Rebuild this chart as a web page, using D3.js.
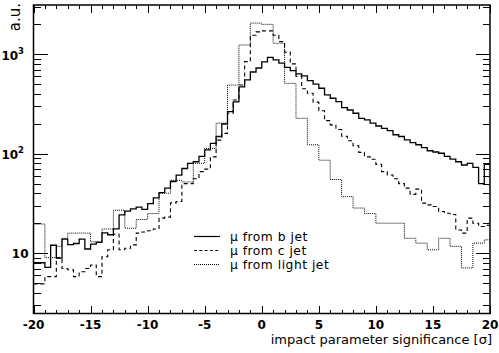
<!DOCTYPE html>
<html><head><meta charset="utf-8">
<script src="https://cdn.jsdelivr.net/npm/d3@7"></script>
<style>body{margin:0;background:#fff}svg{display:block}</style>
</head><body>
<svg id="c" width="499" height="353"></svg>
<script>
// ---- data ----
const binLow = -20, binWidth = 0.5;
const bJet = [8.0, 8.0, 7.2, 12.0, 8.9, 13.8, 12.2, 12.5, 13.8, 11.0,
  12.3, 12.8, 16.0, 15.3, 17.5, 24.3, 26.4, 27.9, 29.0, 27.5,
  31.5, 36, 40.6, 45, 52.5, 61, 71, 80, 83, 94,
  109, 127, 149, 199, 265, 332, 469, 552, 663, 728,
  840, 930, 880, 813, 737, 684, 634, 605, 543, 502,
  455, 390, 361, 334, 291, 275, 255, 227, 219, 203,
  190, 180, 171, 155, 149, 138, 129, 123, 115, 107,
  104, 101, 94, 88, 83, 77, 80, 73, 50, 78];
const cJet = [4.9, 4.9, 5.8, 5.8, 9.0, 7.0, 6.8, 5.8, 6.5, 7.0,
  7.6, 5.8, 9.2, 10.8, 15.5, 10.8, 11.2, 12.1, 15.9, 16.3,
  16.8, 17.5, 22.5, 23, 32, 33, 50, 50, 56, 66,
  70, 93, 137, 160, 255, 347, 490, 843, 1555, 1680,
  1720, 1720, 1555, 1340, 1050, 800, 600, 450, 405, 330,
  270, 215, 195, 175, 150, 135, 120, 103, 93, 88,
  78, 66, 61, 56, 50, 45, 39, 44, 31.8, 30.6,
  29.4, 26.2, 25.2, 24.5, 17.1, 15.9, 22.5, 20, 18.5, 19];
const lightJet = [19.6, 19.6, 9.0, 9.0, 11.7, 14.1, 15.9, 15.9, 15.9, 15.9,
  13, 13, 17.5, 17.5, 27, 27, 17.8, 17.8, 21.8, 21.8,
  25, 25, 40, 40, 54, 54, 52, 52, 80, 80,
  113, 113, 203, 203, 490, 490, 1240, 1240, 2060, 2060,
  2000, 2000, 1290, 1290, 510, 510, 227, 227, 123, 123,
  86, 86, 55, 55, 37, 37, 28.4, 28.4, 25, 25,
  20, 20, 20, 20, 20, 14.1, 14.1, 12.6, 12.6, 10.8,
  10.8, 14.1, 14.1, 11.7, 11.7, 7.1, 7.1, 12.6, 12.6, 13.6];
const xMajorTicks = [-20, -15, -10, -5, 0, 5, 10, 15, 20];
const xTickLabels = ["-20", "-15", "-10", "-5", "0", "5", "10", "15", "20"];
const yMajorTicks = [10, 100, 1000];
const yTickBase = ["10", "10", "10"];
const yTickExp = ["", "2", "3"];
const seriesNames = ["\u03bc from b jet", "\u03bc from c jet", "\u03bc from light jet"];
const xTitle = "impact parameter significance [\u03c3]";
const yTitle = "a.u.";

// ---- layout ----
const L = 33.5, R = 490, T = 5, B = 313.5;
const svg = d3.select("#c");
const x = d3.scaleLinear().domain([-20, 20]).range([L, R]);
const y = d3.scaleLog().domain([2.47, 3130]).range([B, T]);

svg.append("clipPath").attr("id", "clip").append("rect")
  .attr("x", L).attr("y", T).attr("width", R - L).attr("height", B - T);

// histograms
const styles = [
  {dash: null, width: 1.3},
  {dash: "4,3", width: 1.1},
  {dash: "1,1", width: 1}
];
const allSeries = [bJet, cJet, lightJet];
const line = d3.line().x(d => x(d[0])).y(d => y(d[1])).curve(d3.curveStepAfter);
const gh = svg.append("g").attr("clip-path", "url(#clip)");
allSeries.forEach((vals, si) => {
  const pts = vals.map((v, i) => [binLow + i * binWidth, v]);
  pts.push([binLow + vals.length * binWidth, vals[vals.length - 1]]);
  gh.append("path").datum(pts).attr("d", line)
    .attr("fill", "none").attr("stroke", "#000")
    .attr("stroke-width", styles[si].width)
    .attr("stroke-dasharray", styles[si].dash);
});

// axes (ROOT style, ticks inward on all four sides)
const xMinor = d3.range(-19, 20).filter(v => v % 5 !== 0);
const yMinor = [];
[1, 10, 100, 1000].forEach(d => { for (let k = 2; k <= 9; k++) { const v = d * k; if (v >= 2.47 && v <= 3130) yMinor.push(v); } });

function addAxis(axis, tr) {
  const g = svg.append("g").attr("transform", tr).call(axis);
  g.select(".domain").remove();
  g.selectAll("text").remove();
  g.selectAll("line").attr("stroke", "#000").attr("stroke-width", 1).attr("shape-rendering", "crispEdges");
}
addAxis(d3.axisBottom(x).tickValues(xMajorTicks).tickSize(-8), `translate(0,${B})`);
addAxis(d3.axisBottom(x).tickValues(xMinor).tickSize(-4), `translate(0,${B})`);
addAxis(d3.axisTop(x).tickValues(xMajorTicks).tickSize(-8), `translate(0,${T})`);
addAxis(d3.axisTop(x).tickValues(xMinor).tickSize(-4), `translate(0,${T})`);
addAxis(d3.axisLeft(y).tickValues(yMajorTicks).tickSize(-14), `translate(${L},0)`);
addAxis(d3.axisLeft(y).tickValues(yMinor).tickSize(-7), `translate(${L},0)`);
addAxis(d3.axisRight(y).tickValues(yMajorTicks).tickSize(-14), `translate(${R},0)`);
addAxis(d3.axisRight(y).tickValues(yMinor).tickSize(-7), `translate(${R},0)`);

svg.append("rect").attr("x", L).attr("y", T).attr("width", R - L).attr("height", B - T)
  .attr("fill", "none").attr("stroke", "#000").attr("stroke-width", 1.5);

const font = "'DejaVu Sans', sans-serif";
// x tick labels
svg.append("g").selectAll("text").data(xMajorTicks).join("text")
  .attr("x", d => x(d)).attr("y", 329)
  .attr("text-anchor", "middle").attr("font-family", font).attr("font-weight", "bold")
  .attr("font-size", 12).text((d, i) => xTickLabels[i]);

// y tick labels
const yl = svg.append("g");
yMajorTicks.forEach((v, i) => {
  const t = yl.append("text").attr("y", y(v) + 5.5)
    .attr("font-family", font).attr("font-weight", "bold").attr("font-size", 12)
    .attr("text-anchor", "end");
  if (yTickExp[i]) {
    t.attr("x", 24);
    t.append("tspan").text(yTickBase[i]);
    t.append("tspan").attr("font-size", 8.5).attr("dy", -6).text(yTickExp[i]);
  } else {
    t.attr("y", y(v) + 4.5).attr("x", 28.5).text(yTickBase[i]);
  }
});

// titles
svg.append("text").attr("x", 492).attr("y", 344).attr("text-anchor", "end")
  .attr("font-family", font).attr("font-size", 13).text(xTitle);
svg.append("text").attr("transform", "translate(19.5,3) rotate(-90)").attr("text-anchor", "end")
  .attr("font-family", font).attr("font-size", 15).text(yTitle);

// legend
const legY = [236.5, 250.5, 264.5];
const lg = svg.append("g");
seriesNames.forEach((name, i) => {
  lg.append("line").attr("x1", 194).attr("x2", 220).attr("y1", legY[i]).attr("y2", legY[i])
    .attr("stroke", "#000").attr("stroke-width", i === 0 ? 1.2 : 1)
    .attr("stroke-dasharray", i === 1 ? "3,2.3" : styles[i].dash);
  lg.append("text").attr("x", 230).attr("y", legY[i] + 4.5)
    .attr("font-family", font).attr("font-size", 12.3).attr("letter-spacing", 0.5).text(name);
});
</script>
</body></html>
